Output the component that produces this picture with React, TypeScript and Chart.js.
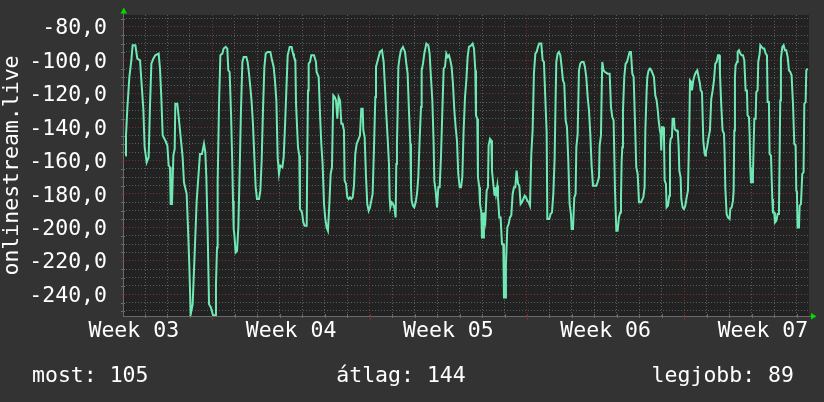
import React, { useEffect, useRef } from "react";
import { Chart, registerables } from "chart.js";

Chart.register(...registerables);

// Time in hours from the start of the month-long window, and the measured value at that time.
const hours: number[] = [
  3.0, 3.7, 5.1, 7.3, 9.4, 10.8, 13.7, 15.8, 18.7, 20.1,
  22.2, 23.6, 25.8, 27.9, 29.3, 30.8, 32.9, 35.0, 38.6, 40.0,
  41.4, 42.9, 45.7, 47.9, 49.3, 50.7, 51.4, 52.8, 54.3, 55.7,
  56.4, 58.5, 60.0, 61.4, 62.8, 64.2, 65.6, 68.5, 69.9, 71.3,
  72.8, 74.9, 76.3, 77.7, 79.2, 80.6, 82.7, 84.9, 87.0, 88.4,
  89.5, 90.9, 92.4, 94.5, 96.6, 98.8, 99.8, 100.9, 101.6, 103.0,
  104.5, 106.6, 108.0, 110.2, 111.9, 113.0, 114.4, 115.9, 117.3, 118.0,
  118.7, 119.4, 120.8, 122.3, 123.7, 125.1, 126.5, 128.0, 129.4, 132.2,
  133.6, 135.1, 136.5, 137.9, 139.3, 140.8, 142.2, 143.6, 145.8, 147.2,
  148.6, 150.0, 151.5, 152.9, 155.0, 157.9, 159.3, 161.4, 162.8, 164.3,
  165.7, 167.1, 168.5, 170.7, 172.1, 173.5, 174.9, 176.4, 178.5, 180.6,
  182.1,
  183.1, 184.6, 185.3, 187.4, 188.8, 189.5, 191.7, 193.1, 194.5, 196.7,
  197.4, 198.1, 198.8, 200.2, 201.6, 204.5, 206.6, 207.3, 209.5, 210.9,
  212.3, 213.7, 215.2, 216.6, 218.0, 219.4, 220.9, 222.3, 223.7, 225.1,
  226.6, 228.0, 229.4, 230.8, 232.3, 233.7, 235.1, 236.5, 237.2, 238.7,
  240.1, 241.5, 242.9, 244.4, 245.8, 247.2, 248.6, 250.1, 251.5, 253.6,
  255.0, 256.5, 257.2, 258.6, 260.0, 261.4, 262.9, 264.3, 265.7, 267.1,
  268.6, 270.0, 270.7, 272.1, 273.5, 275.0, 277.1,
  278.9, 280.3, 281.7, 283.2, 284.6, 285.3, 286.0, 287.4, 288.9, 290.3,
  291.7, 292.4, 293.1, 293.8, 294.6, 296.0, 297.4, 299.5, 301.7, 303.1,
  304.5, 305.9, 307.4, 308.1, 308.8, 310.2, 311.6, 313.1, 314.5, 315.9,
  317.3, 318.8, 319.5, 320.9, 322.3, 324.5, 326.6, 328.0, 329.4, 330.9,
  332.3, 333.0, 334.4, 335.9, 337.3, 338.7, 340.1, 341.6, 343.0, 344.4,
  345.8, 347.3, 348.7, 350.1, 351.5, 352.9, 354.4, 355.8, 357.2, 358.6,
  360.1, 361.5, 362.9, 364.3, 365.8, 367.2, 368.6, 370.0,
  372.5, 373.9, 375.4, 376.8, 377.5, 378.9, 379.6, 381.1, 381.8, 383.2,
  383.9, 385.3, 386.0, 387.5, 388.9, 390.3, 391.0, 392.5, 393.9, 394.6,
  396.0, 397.4, 398.1, 398.9, 400.3, 401.0, 402.4, 403.8, 405.3, 406.7,
  407.4, 408.8, 409.5, 411.0, 412.4, 413.8, 415.2, 416.7, 418.1, 419.5,
  420.9, 422.4, 423.8, 425.2, 426.6, 428.1, 429.5, 430.9, 432.3, 433.8,
  435.2, 436.6, 438.0, 439.4, 440.9, 442.3, 443.7, 445.1, 447.3, 448.7,
  450.1, 451.5, 453.0, 453.7, 455.8, 457.2, 458.7, 460.1, 461.5,
  462.6, 463.3, 464.7, 466.1, 467.6, 469.0, 470.4, 471.8, 473.3, 474.7,
  476.1, 477.5, 478.9, 479.7, 481.1, 482.5, 483.9, 484.7, 486.1, 487.5,
  488.9, 490.4, 492.5, 493.9, 495.3, 496.8, 498.2, 499.6, 501.0, 502.5,
  506.0, 507.4, 508.9, 509.6, 511.0, 511.7, 512.4, 513.8, 515.3, 518.1,
  520.3, 521.7, 523.1, 524.5, 526.0, 527.4, 528.8, 530.2, 531.6, 532.4,
  533.1, 533.8, 534.5, 535.9, 537.3, 538.8, 540.2, 541.6, 543.0, 544.5,
  545.9, 547.3, 548.7, 550.2, 551.6, 553.7,
  556.2, 557.6, 558.4, 559.8, 560.5, 561.9, 563.3, 564.8, 566.2, 567.6,
  569.0, 570.5, 571.9, 572.6, 574.0, 574.7, 575.4, 576.2, 577.6, 578.3,
  579.0, 580.4, 581.1, 582.6, 584.0, 584.7, 585.4, 586.8, 587.5, 589.0,
  589.7, 591.1, 592.5, 593.2, 594.0, 594.7, 596.1, 596.8, 598.2, 599.6,
  601.1, 602.5, 603.9, 605.3, 606.1, 607.5, 608.2, 609.6, 611.0, 612.5,
  613.9, 615.3, 616.7, 617.5, 618.9, 620.3, 621.7, 622.4, 623.1, 624.6,
  626.0, 627.4, 628.8, 630.3, 631.7, 633.1, 634.5, 636.0, 637.4, 638.1,
  639.5, 640.9, 642.4, 643.1, 643.8, 645.2, 646.6,
  648.4, 649.1, 650.6, 652.0, 652.7, 653.4, 654.1, 654.8, 656.3, 657.0,
  658.4, 659.8, 661.2, 662.7, 664.1, 665.5, 666.9, 667.6, 669.1, 669.8,
  670.5, 671.2, 672.6, 673.3, 674.1, 674.8, 676.2, 676.9, 678.3, 679.0,
  680.5, 681.2, 682.6, 684.0, 685.4, 686.9, 688.3, 689.0, 690.4, 691.1,
  692.6, 694.0, 694.7, 696.1, 696.8, 698.3, 699.7, 701.1, 701.8, 702.5,
  703.2, 704.7, 706.1, 707.5, 708.9, 710.4, 711.8, 713.2, 714.6, 716.1,
  717.5, 718.9, 719.6, 720.3, 721.0, 722.5, 723.2, 724.6, 726.0, 727.4,
  728.2, 729.6, 730.3, 731.7,
];

const values: number[] = [
  -157, -145, -129, -110, -100, -91, -91, -99, -100, -112,
  -129, -152, -161, -158, -128, -102, -99, -97, -96, -105,
  -122, -145, -148, -151, -163, -164, -186, -186, -157, -153,
  -126, -126, -134, -142, -150, -158, -173, -180, -200, -222,
  -252, -246, -226, -206, -184, -173, -156, -156, -150, -155,
  -170, -202, -246, -248, -252.5, -252.5, -234, -212, -173, -128,
  -97, -96, -93, -92, -93, -106, -107, -132, -164, -184,
  -201, -204, -215, -214, -200, -166, -130, -101, -98, -98,
  -101, -108, -116, -125, -138, -158, -176, -183, -183, -178,
  -160, -130, -104, -96, -95, -95, -99, -104, -112, -124,
  -158, -168, -163, -164, -158, -140, -119, -97, -92, -92,
  -96,
  -98, -100, -126, -152, -157, -189, -191, -197, -199, -199,
  -152, -118, -102, -101, -97, -97, -101, -107, -110, -132,
  -150, -162, -186, -195, -200, -202, -186, -168, -164, -121,
  -122, -124, -135, -122, -124, -138, -138, -142, -172, -174,
  -182, -183, -182, -183, -182, -175, -156, -150, -148, -145,
  -129, -129, -142, -146, -169, -186, -190, -188, -184, -180,
  -152, -122, -104, -101, -98, -95, -94,
  -101, -116, -132, -147, -162, -182, -188, -185, -186, -188,
  -194, -162, -150, -132, -104, -98, -94, -92, -95, -102,
  -108, -130, -150, -176, -184, -187, -188, -185, -180, -170,
  -148, -128, -106, -102, -96, -90, -91, -96, -110, -124,
  -150, -172, -178, -188, -176, -176, -158, -130, -105, -104,
  -96, -98, -97, -100, -104, -114, -130, -140, -148, -168,
  -176, -176, -170, -142, -122, -112, -98, -92,
  -91, -90, -93, -106, -133, -135, -170, -176, -186, -191,
  -206, -206, -191, -196, -178, -176, -151, -147, -148, -166,
  -174, -181, -176, -180, -175, -182, -194, -194, -210, -210,
  -242, -242, -222, -200, -198, -194, -193, -180, -176, -176,
  -166, -174, -175, -186, -185, -183, -181, -182, -184, -185,
  -187, -156, -142, -108, -96, -95, -92, -90, -90, -100,
  -101, -122, -143, -195, -195, -192, -191, -180, -159,
  -122, -101, -96, -95, -97, -104, -112, -114, -136, -140,
  -160, -186, -192, -201, -201, -182, -180, -152, -144, -106,
  -102, -101, -101, -104, -110, -122, -130, -144, -163, -175,
  -175, -173, -170, -151, -145, -121, -101, -106, -107, -108,
  -108, -128, -134, -136, -178, -202, -202, -194, -191, -182,
  -160, -152, -130, -110, -102, -101, -98, -95, -95, -108,
  -110, -136, -164, -168, -185, -185,
  -182, -176, -142, -118, -110, -106, -105, -106, -108, -110,
  -121, -124, -131, -136, -142, -144, -154, -140, -140, -146,
  -172, -174, -188, -187, -181, -151, -147, -146, -135, -135,
  -141, -142, -142, -144, -152, -166, -170, -183, -188, -189,
  -187, -182, -178, -142, -112, -113, -118, -112, -109, -107,
  -106, -110, -114, -118, -119, -148, -156, -157, -155, -151,
  -146, -142, -123, -118, -112, -102, -101, -97, -97, -108,
  -127, -142, -144, -156, -176, -192, -194,
  -195, -189, -188, -184, -178, -142, -110, -103, -101, -95,
  -94, -96, -97, -97, -100, -118, -118, -133, -134, -145,
  -164, -173, -173, -169, -150, -135, -135, -119, -118, -101,
  -96, -91, -92, -93, -93, -96, -97, -125, -125, -156,
  -157, -183, -191, -191, -197, -196, -192, -192, -158, -124,
  -99, -92, -91, -94, -94, -98, -106, -107, -109, -126,
  -150, -151, -178, -179, -200, -200, -187, -186, -168, -167,
  -126, -125, -106, -105,
];

const weekLabels = ["Week 03", "Week 04", "Week 05", "Week 06", "Week 07"];
const weekLabelHours = [12, 180, 348, 516, 684];
const weekStartHours = [96, 264, 432, 600];
const dayLineHours = Array.from({ length: 30 }, (_, i) => 24 * (i + 1));
const yGridValues = Array.from({ length: 36 }, (_, i) => -250 + 5 * i);
const yLabelStep = 20;
const axisTitle = "onlinestream.live";
const legendItems = ["most: 105", "átlag: 144", "legjobb: 89"];

const X_MIN = 0.5;
const X_MAX = 733.2;
const Y_MIN = -253.0;
const Y_MAX = -72.9;

const FONT_FAMILY = '"DejaVu Sans Mono", monospace';
const FONT_SIZE = 21.5;
const C = {
  page: "#333333",
  plot: "#222222",
  line: "#70e8b4",
  minor: "#5a5a5a",
  major: "#7a3030",
  axis: "#6a6a6a",
  arrow: "#00dd00",
  text: "#ffffff",
};

const isYMajor = (v: number) => Math.abs(v % yLabelStep) < 1e-6;

const rrdPlugin = {
  id: "rrdLook",
  beforeDraw(chart: any) {
    const { ctx, chartArea: a } = chart;
    ctx.save();
    ctx.fillStyle = C.page;
    ctx.fillRect(0, 0, chart.width, chart.height);
    ctx.fillStyle = C.plot;
    ctx.fillRect(a.left, a.top, a.right - a.left, a.bottom - a.top);
    ctx.restore();
  },
  beforeDatasetsDraw(chart: any) {
    const { ctx, chartArea: a, scales } = chart;
    ctx.save();
    ctx.strokeStyle = C.axis;
    ctx.lineWidth = 1;
    ctx.beginPath();
    ctx.moveTo(a.left + 0.5, a.top - 2);
    ctx.lineTo(a.left + 0.5, a.bottom + 1);
    ctx.moveTo(a.left, a.bottom + 0.5);
    ctx.lineTo(a.right + 2, a.bottom + 0.5);
    ctx.stroke();
    for (const v of yGridValues) {
      const y = Math.round(scales.y.getPixelForValue(v)) + 0.5;
      ctx.strokeStyle = isYMajor(v) ? C.major : C.axis;
      ctx.beginPath();
      ctx.moveTo(a.left - 2, y);
      ctx.lineTo(a.left + 2, y);
      ctx.stroke();
    }
    for (const h of dayLineHours) {
      const x = Math.round(scales.x.getPixelForValue(h)) + 0.5;
      const major = weekStartHours.includes(h);
      ctx.strokeStyle = major ? C.major : C.axis;
      ctx.beginPath();
      ctx.moveTo(x, a.bottom - 2);
      ctx.lineTo(x, a.bottom + (major ? 4 : 2));
      ctx.stroke();
    }
    ctx.restore();
  },
  afterDraw(chart: any) {
    const { ctx, chartArea: a } = chart;
    ctx.save();
    ctx.fillStyle = C.arrow;
    ctx.beginPath();
    ctx.moveTo(a.left - 2.5, a.top - 1.5);
    ctx.lineTo(a.left + 4, a.top - 1.5);
    ctx.lineTo(a.left + 0.75, a.top - 7.5);
    ctx.closePath();
    ctx.fill();
    ctx.beginPath();
    ctx.moveTo(a.right + 2, a.bottom - 3);
    ctx.lineTo(a.right + 2, a.bottom + 3.5);
    ctx.lineTo(a.right + 7.5, a.bottom + 0.25);
    ctx.closePath();
    ctx.fill();
    ctx.restore();
  },
};

export default function App() {
  const canvasRef = useRef<HTMLCanvasElement | null>(null);

  useEffect(() => {
    document.body.style.margin = "0";
    const canvas = canvasRef.current;
    if (!canvas) return;
    const n = Math.min(hours.length, values.length);
    const points = [] as { x: number; y: number }[];
    for (let i = 0; i < n; i++) points.push({ x: hours[i], y: values[i] });

    const xTicks = [...dayLineHours, ...weekLabelHours].sort((p, q) => p - q);
    const font = { family: FONT_FAMILY, size: FONT_SIZE };

    const chart = new Chart(canvas, {
      type: "line",
      data: {
        datasets: [
          {
            label: axisTitle,
            data: points,
            borderColor: C.line,
            borderWidth: 2,
            pointRadius: 0,
            tension: 0,
            fill: false,
          },
        ],
      },
      options: {
        animation: false,
        responsive: false,
        devicePixelRatio: 1,
        layout: { padding: { left: 0, right: 15, top: 15, bottom: 0 } },
        plugins: { legend: { display: false }, tooltip: { enabled: false } },
        scales: {
          x: {
            type: "linear",
            min: X_MIN,
            max: X_MAX,
            bounds: "data",
            afterBuildTicks: (s: any) => {
              s.ticks = xTicks.map((v) => ({ value: v }));
            },
            afterFit: (s: any) => {
              s.height = 86;
              s.paddingLeft = 0;
              s.paddingRight = 0;
            },
            grid: {
              drawTicks: false,
              lineWidth: 1,
              color: (c: any) => {
                const v = c.tick ? c.tick.value : 0;
                if (weekLabelHours.includes(v)) return "rgba(0,0,0,0)";
                if (weekStartHours.includes(v)) return C.major;
                return C.minor;
              },
            },
            border: { display: false, dash: [1, 2] },
            ticks: {
              autoSkip: false,
              maxRotation: 0,
              minRotation: 0,
              padding: 3,
              color: C.text,
              font,
              callback: (v: any) => {
                const i = weekLabelHours.indexOf(Number(v));
                return i >= 0 ? weekLabels[i] : "";
              },
            },
          },
          y: {
            type: "linear",
            min: Y_MIN,
            max: Y_MAX,
            bounds: "data",
            afterBuildTicks: (s: any) => {
              s.ticks = yGridValues.map((v) => ({ value: v }));
            },
            afterFit: (s: any) => {
              s.width = 123;
              s.paddingTop = 0;
              s.paddingBottom = 0;
            },
            grid: {
              drawTicks: false,
              lineWidth: 1,
              color: (c: any) => (c.tick && isYMajor(c.tick.value) ? C.major : C.minor),
            },
            border: { display: false, dash: [1, 2] },
            ticks: {
              autoSkip: false,
              padding: 16,
              labelOffset: 2,
              color: C.text,
              font,
              callback: (v: any) => {
                const num = Number(v);
                return isYMajor(num) ? num.toFixed(1).replace(".", ",") : "";
              },
            },
            title: {
              display: true,
              text: axisTitle,
              color: C.text,
              font,
              padding: 0,
            },
          },
        },
      } as any,
      plugins: [rrdPlugin],
    });
    return () => chart.destroy();
  }, []);

  const legendStyle: React.CSSProperties = {
    position: "absolute",
    top: 363.5,
    fontFamily: FONT_FAMILY,
    fontSize: FONT_SIZE,
    lineHeight: 1,
    color: C.text,
    whiteSpace: "pre",
  };

  return (
    <div
      style={{
        position: "absolute",
        left: 0,
        top: 0,
        width: 824,
        height: 402,
        background: C.page,
        overflow: "hidden",
      }}
    >
      <canvas ref={canvasRef} width={824} height={402} style={{ display: "block" }} />
      <div style={{ ...legendStyle, left: 32 }}>{legendItems[0]}</div>
      <div style={{ ...legendStyle, left: 401, transform: "translateX(-50%)" }}>{legendItems[1]}</div>
      <div style={{ ...legendStyle, right: 30, textAlign: "right" }}>{legendItems[2]}</div>
    </div>
  );
}
